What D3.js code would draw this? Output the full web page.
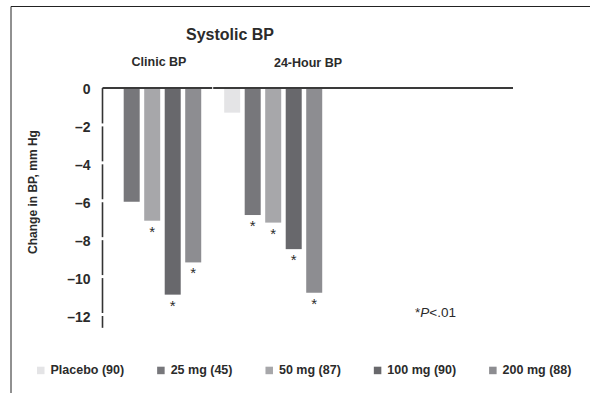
<!DOCTYPE html>
<html>
<head>
<meta charset="utf-8">
<script src="https://cdn.jsdelivr.net/npm/d3@7"></script>
<style>
  body { margin: 0; background: #fff; }
  svg { display: block; font-family: "Liberation Sans", Arial, Helvetica, sans-serif; }
</style>
</head>
<body>
<div id="screen"></div>
<script>
var width = 590;
var height = 393;

// data
var groups = ["Clinic BP", "24-Hour BP"];
var doses = ["Placebo (90)", "25 mg (45)", "50 mg (87)", "100 mg (90)", "200 mg (88)"];
var clinicValues = [null, -6.0, -7.0, -10.9, -9.2];
var ambulatoryValues = [-1.3, -6.7, -7.1, -8.5, -10.8];
var clinicSig = [false, false, true, true, true];
var ambulatorySig = [false, true, true, true, true];
var doseColors = ["#e4e4e6", "#77777b", "#a7a7aa", "#68686c", "#8d8d91"];
var yTicks = [0, -2, -4, -6, -8, -10, -12];

var seriesByGroup = {
  "Clinic BP": { values: clinicValues, sig: clinicSig },
  "24-Hour BP": { values: ambulatoryValues, sig: ambulatorySig }
};

var textColor = "#2b2b2b";

var svg = d3.select("#screen").append("svg")
  .attr("width", width).attr("height", height);

// frame (top and left edges only)
svg.append("line").attr("x1", 11).attr("x2", width).attr("y1", 6.5).attr("y2", 6.5)
  .attr("stroke", "#222").attr("stroke-width", 1);
svg.append("line").attr("x1", 11).attr("x2", 11).attr("y1", 6.5).attr("y2", height)
  .attr("stroke", "#222").attr("stroke-width", 1);

// scales
var y = d3.scaleLinear().domain([0, -12]).range([88, 315.5]);
var x0 = d3.scaleBand().domain(groups).range([91.7, 333.7]);
var x1 = d3.scaleBand().domain(doses).range([0, x0.bandwidth()])
  .paddingInner(0.22).paddingOuter(0.56);

var axisX = 102.5;

// bars
var groupG = svg.selectAll("g.group").data(groups).enter().append("g")
  .attr("class", "group")
  .attr("transform", function(g){ return "translate(" + x0(g) + ",0)"; });

groupG.selectAll("rect").data(function(g){
    return doses.map(function(d, i){
      return { dose: d, i: i, v: seriesByGroup[g].values[i], sig: seriesByGroup[g].sig[i] };
    }).filter(function(d){ return d.v !== null; });
  }).enter().append("rect")
  .attr("x", function(d){ return x1(d.dose); })
  .attr("y", y(0))
  .attr("width", x1.bandwidth())
  .attr("height", function(d){ return y(d.v) - y(0); })
  .attr("fill", function(d){ return doseColors[d.i]; });

// significance asterisks
groupG.selectAll("text.star").data(function(g){
    return doses.map(function(d, i){
      return { dose: d, v: seriesByGroup[g].values[i], sig: seriesByGroup[g].sig[i] };
    }).filter(function(d){ return d.sig; });
  }).enter().append("text")
  .attr("class", "star")
  .attr("x", function(d){ return x1(d.dose) + x1.bandwidth() / 2; })
  .attr("y", function(d){ return y(d.v) + 16; })
  .attr("text-anchor", "middle")
  .attr("font-size", 15)
  .attr("fill", textColor)
  .text("*");

// zero line
svg.append("line")
  .attr("x1", axisX).attr("x2", 513)
  .attr("y1", y(0)).attr("y2", y(0))
  .attr("stroke", "#3a3a3a").attr("stroke-width", 2);

// white notch between the groups on the zero line
svg.append("line")
  .attr("x1", x0("24-Hour BP")).attr("x2", x0("24-Hour BP"))
  .attr("y1", y(0) - 1.5).attr("y2", y(0) + 1.5)
  .attr("stroke", "#fff").attr("stroke-width", 1);

// y axis
svg.append("line")
  .attr("x1", axisX).attr("x2", axisX)
  .attr("y1", y(0)).attr("y2", y(-12.65))
  .attr("stroke", "#333").attr("stroke-width", 1.6);

var yAxis = d3.axisLeft(y).tickValues(yTicks)
  .tickSize(0).tickPadding(12)
  .tickFormat(function(d){ return d === 0 ? "0" : "\u2013" + Math.abs(d); });
var yAxisG = svg.append("g").attr("transform", "translate(" + axisX + ",0)").call(yAxis)
  .attr("font-family", null).attr("font-size", null);
yAxisG.select(".domain").remove();
yAxisG.selectAll("text")
  .attr("font-size", 14).attr("font-weight", "bold")
  .attr("fill", textColor).attr("dy", "0.42em");

// tick gaps in the axis line
svg.selectAll("line.gap").data(yTicks.filter(function(d){ return d !== 0; }))
  .enter().append("line").attr("class", "gap")
  .attr("x1", axisX - 2).attr("x2", axisX + 2)
  .attr("y1", function(d){ return y(d) - 1; }).attr("y2", function(d){ return y(d) - 1; })
  .attr("stroke", "#fff").attr("stroke-width", 3);

// axis title
svg.append("text")
  .attr("transform", "translate(37," + 192 + ") rotate(-90)")
  .attr("text-anchor", "middle")
  .attr("font-size", 12).attr("font-weight", "bold")
  .attr("fill", textColor)
  .text("Change in BP, mm Hg");

// titles
svg.append("text").attr("x", 230).attr("y", 39.5)
  .attr("text-anchor", "middle").attr("font-size", 16).attr("font-weight", "bold")
  .attr("fill", textColor).text("Systolic BP");
svg.append("text").attr("x", 159).attr("y", 65.5)
  .attr("text-anchor", "middle").attr("font-size", 12.5).attr("font-weight", "bold")
  .attr("fill", textColor).text(groups[0]);
svg.append("text").attr("x", 308).attr("y", 66.5)
  .attr("text-anchor", "middle").attr("font-size", 12.5).attr("font-weight", "bold")
  .attr("fill", textColor).text(groups[1]);

// p-value note
var note = svg.append("text").attr("x", 415).attr("y", 317)
  .attr("font-size", 13.5).attr("fill", textColor);
note.append("tspan").text("*");
note.append("tspan").attr("font-style", "italic").text("P");
note.append("tspan").text("<.01");

// legend
var legendX = 37;
var legendY = 370.5;
doses.forEach(function(d, i){
  var item = svg.append("g").attr("transform", "translate(" + legendX + "," + legendY + ")");
  item.append("rect").attr("x", 0).attr("y", -3.8).attr("width", 7.5).attr("height", 7.5)
    .attr("fill", doseColors[i]);
  var t = item.append("text").attr("x", 13.5).attr("y", 3)
    .attr("font-size", 12.5).attr("font-weight", "bold")
    .attr("fill", textColor).text(d);
  legendX += 13.5 + t.node().getComputedTextLength() + 33;
});
</script>
</body>
</html>
